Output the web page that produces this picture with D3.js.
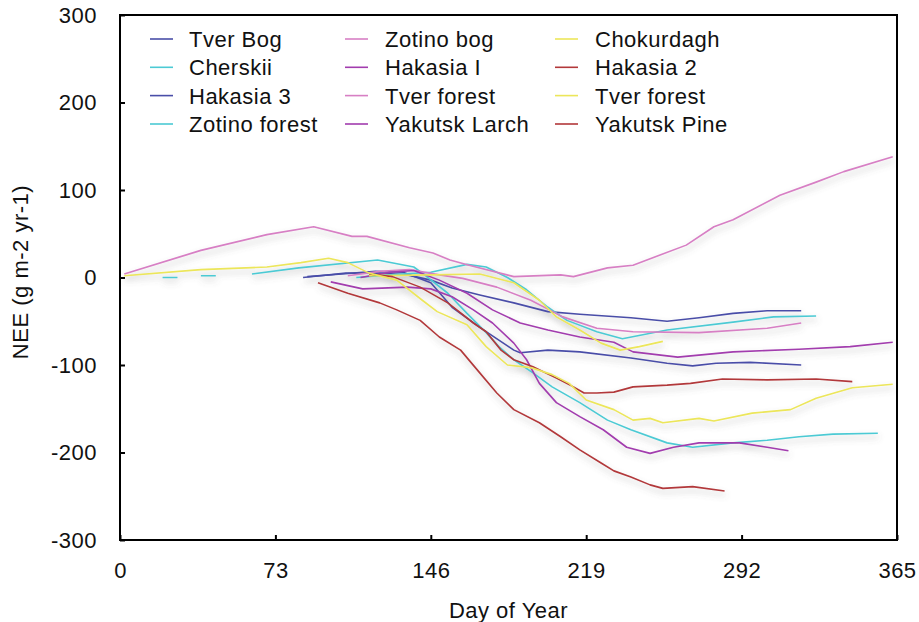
<!DOCTYPE html>
<html>
<head>
<meta charset="utf-8">
<script src="https://cdn.jsdelivr.net/npm/d3@7"></script>
<style>
  body { margin: 0; background: #fff; }
  text { font-family: "Liberation Sans", Arial, Helvetica, sans-serif; fill: #111; letter-spacing: 0.5px; }
</style>
</head>
<body>
<svg id="chart" width="919" height="622"></svg>
<script>
// series names, in legend order (column by column)
const seriesNames = ["Tver Bog", "Cherskii", "Hakasia 3", "Zotino forest",
                     "Zotino bog", "Hakasia I", "Tver forest", "Yakutsk Larch",
                     "Chokurdagh", "Hakasia 2", "Tver forest", "Yakutsk Pine"];
const seriesColors = ["#4a4ea8", "#4ccad4", "#4a4ea8", "#4ccad4",
                      "#d77fc4", "#a23cae", "#d77fc4", "#a23cae",
                      "#ece65a", "#b2383a", "#ece65a", "#b2383a"];

const xTicks = [0, 73, 146, 219, 292, 365];
const yTicks = [-300, -200, -100, 0, 100, 200, 300];

// [day of year, NEE]; null = gap in record
const tverBog = [[86,0],[106,5],[122,5],[135,3],[146,-3],[156,-12],[169,-20],[185,-29],[201,-39],[216,-42],[240,-46],[257,-50],[272,-46],[288,-41],[304,-38],[320,-38]];
const cherskii = [[20,0],[27,0],null,[38,2],[45,2],null,[62,4],[84,11],[121,20],[138,12],[142,5],[154,-18],[163,-41],[172,-63],[178,-79],[185,-94],[194,-109],[203,-125],[216,-143],[229,-163],[240,-174],[257,-189],[269,-194],[288,-189],[304,-186],[319,-182],[335,-179],[356,-178]];
const hakasia3 = [[88,1],[104,4],[120,7],[133,6],[146,-6],[156,-34],[169,-57],[185,-83],[188,-86],[201,-83],[216,-85],[240,-92],[257,-98],[269,-101],[280,-98],[296,-97],[320,-100]];
const zotinoForest = [[111,0],[127,3],[146,6],[163,15],[172,12],[182,0],[191,-14],[201,-34],[210,-49],[224,-62],[236,-70],[257,-60],[288,-51],[307,-45],[327,-44]];
const zotinoBog = [[107,2],[122,7],[136,9],[150,3],[161,-1],[177,-11],[193,-26],[208,-45],[224,-58],[241,-62],[272,-63],[304,-58],[320,-52]];
const hakasia1 = [[99,-5],[114,-13],[135,-11],[146,-13],[156,-22],[166,-37],[175,-52],[185,-75],[191,-94],[197,-121],[205,-143],[216,-159],[227,-174],[238,-194],[249,-201],[260,-194],[272,-189],[291,-189],[304,-194],[314,-198]];
const tverForestPink = [[2,4],[38,31],[69,49],[91,58],[109,47],[116,47],[136,34],[147,28],[155,20],[164,14],[185,1],[207,3],[213,1],[229,11],[241,14],[254,26],[266,37],[279,58],[288,66],[310,94],[327,109],[340,121],[363,138]];
const yakutskLarch = [[113,0],[127,6],[138,8],[150,-3],[163,-18],[175,-37],[188,-52],[201,-60],[216,-68],[232,-74],[241,-85],[262,-91],[288,-85],[319,-82],[343,-79],[363,-74]];
const chokurdagh = [[117,2],[146,3],[169,4],[185,-6],[197,-26],[205,-45],[216,-60],[226,-75],[235,-83],[244,-79],[255,-73]];
const hakasia2 = [[117,4],[128,1],[141,-11],[154,-29],[166,-52],[172,-62],[179,-83],[185,-94],[194,-102],[205,-115],[213,-125],[218,-132],[224,-132],[232,-131],[241,-125],[257,-123],[268,-121],[283,-116],[304,-117],[327,-116],[344,-119]];
const tverForestYellow = [[2,2],[38,9],[69,12],[85,17],[98,22],[107,17],[117,5],[130,-3],[142,-26],[149,-39],[163,-54],[172,-79],[182,-100],[193,-103],[203,-111],[211,-121],[219,-140],[232,-151],[241,-163],[249,-161],[255,-166],[272,-161],[279,-164],[297,-155],[315,-151],[327,-138],[344,-126],[363,-122]];
const yakutskPine = [[93,-6],[107,-18],[122,-29],[130,-37],[141,-49],[150,-68],[160,-83],[169,-109],[177,-132],[185,-151],[197,-166],[207,-182],[216,-197],[226,-212],[232,-221],[240,-228],[249,-237],[255,-241],[269,-239],[284,-244]];

const seriesData = [tverBog, cherskii, hakasia3, zotinoForest,
                    zotinoBog, hakasia1, tverForestPink, yakutskLarch,
                    chokurdagh, hakasia2, tverForestYellow, yakutskPine];

const svg = d3.select("#chart");
const plot = {left: 120, right: 897, top: 15, bottom: 540};

const x = d3.scaleLinear().domain([0, 365]).range([plot.left, plot.right]);
const y = d3.scaleLinear().domain([-300, 300]).range([plot.bottom, plot.top]);

// soft shadow under the curves, like the original
const defs = svg.append("defs");
defs.append("filter").attr("id", "shadow")
    .attr("x", "-5%").attr("y", "-20%").attr("width", "110%").attr("height", "160%")
  .append("feDropShadow")
    .attr("dx", 1).attr("dy", 4).attr("stdDeviation", 3)
    .attr("flood-color", "#666").attr("flood-opacity", 0.4);

// axes (inward ticks, no domain line: the frame draws it)
const yAxis = svg.append("g")
    .attr("transform", `translate(${plot.left},0)`)
    .call(d3.axisLeft(y).tickValues(yTicks).tickSize(-5).tickPadding(23).tickFormat(d => String(d)));
const xAxis = svg.append("g")
    .attr("transform", `translate(0,${plot.bottom})`)
    .call(d3.axisBottom(x).tickValues(xTicks).tickSize(-5).tickPadding(22));

[yAxis, xAxis].forEach(g => {
  g.select(".domain").remove();
  g.selectAll(".tick line").attr("stroke", "#000").attr("stroke-width", 2);
  g.selectAll(".tick text")
    .style("font-size", "22px")
    .style("font-family", "Liberation Sans, Arial, sans-serif")
    .attr("fill", "#111");
});

// curves
const line = d3.line()
    .defined(d => d !== null)
    .x(d => x(d[0]))
    .y(d => y(d[1]))
    .curve(d3.curveLinear);

svg.append("g")
    .attr("filter", "url(#shadow)")
  .selectAll("path")
  .data(seriesData)
  .join("path")
    .attr("d", line)
    .attr("fill", "none")
    .attr("stroke", (d, i) => seriesColors[i])
    .attr("stroke-width", 1.6)
    .attr("stroke-linejoin", "round");

// frame
svg.append("rect")
    .attr("x", plot.left).attr("y", plot.top)
    .attr("width", plot.right - plot.left).attr("height", plot.bottom - plot.top)
    .attr("fill", "none").attr("stroke", "#000").attr("stroke-width", 2);

// legend, 3 columns x 4 rows
const legendLineX = [150, 345, 555];
const legendTextX = [189, 385, 595];
const legendRowY = [47, 75.3, 103.6, 132];

const legend = svg.append("g")
  .selectAll("g")
  .data(seriesNames)
  .join("g");

legend.append("line")
    .attr("x1", (d, i) => legendLineX[Math.floor(i / 4)])
    .attr("x2", (d, i) => legendLineX[Math.floor(i / 4)] + 23)
    .attr("y1", (d, i) => legendRowY[i % 4] - 8)
    .attr("y2", (d, i) => legendRowY[i % 4] - 8)
    .attr("stroke", (d, i) => seriesColors[i])
    .attr("stroke-width", 1.6);

legend.append("text")
    .attr("x", (d, i) => legendTextX[Math.floor(i / 4)])
    .attr("y", (d, i) => legendRowY[i % 4])
    .style("font-size", "22px")
    .text(d => d);

// axis titles
svg.append("text")
    .attr("x", (plot.left + plot.right) / 2)
    .attr("y", 618)
    .attr("text-anchor", "middle")
    .style("font-size", "22px")
    .text("Day of Year");

svg.append("text")
    .attr("transform", "translate(28,272) rotate(-90)")
    .attr("text-anchor", "middle")
    .style("font-size", "22px")
    .text("NEE (g m-2 yr-1)");
</script>
</body>
</html>
